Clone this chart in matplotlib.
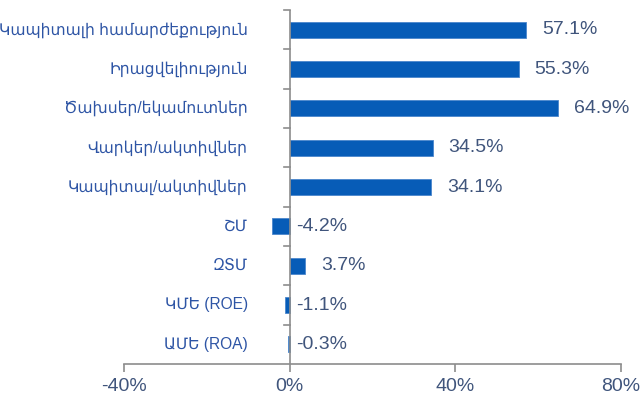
import matplotlib
matplotlib.use("Agg")
import matplotlib.pyplot as plt
import numpy as np
from matplotlib.transforms import offset_copy

# data, top to bottom
categories = [
    "Կապիտալի համարժեքություն",
    "Իրացվելիություն",
    "Ծախսեր/եկամուտներ",
    "Վարկեր/ակտիվներ",
    "Կապիտալ/ակտիվներ",
    "ՇՄ",
    "ԶՏՄ",
    "ԿՄԵ (ROE)",
    "ԱՄԵ (ROA)",
]
values = [57.1, 55.3, 64.9, 34.5, 34.1, -4.2, 3.7, -1.1, -0.3]
value_labels = ["57.1%", "55.3%", "64.9%", "34.5%", "34.1%", "-4.2%", "3.7%", "-1.1%", "-0.3%"]
xticks = [-40, 0, 40, 80]
xtick_labels = ["-40%", "0%", "40%", "80%"]

BAR = "#075CB7"
VALC = "#40557C"
CATC = "#2E55A5"
AXC = "#8C8C8C"

plt.rcParams["font.family"] = ["Liberation Sans", "DejaVu Sans"]

fig = plt.figure(figsize=(6.42, 4.01), dpi=100)
ax = fig.add_axes([124 / 642, 1 - 364 / 401, (621 - 124) / 642, (364 - 10) / 401])

y = np.arange(len(categories))
ax.barh(y, values, height=0.41, color=BAR, edgecolor="#4A86CC", linewidth=0.6, zorder=2)
ax.set_xlim(-40, 80)
ax.set_ylim(len(categories) - 0.5, -0.5)

for s in ["top", "right", "left"]:
    ax.spines[s].set_visible(False)
ax.spines["bottom"].set_color(AXC)
ax.spines["bottom"].set_linewidth(1.2)
ax.axvline(0, color=AXC, lw=1.2, zorder=3)

ax.set_xticks(xticks)
ax.set_xticklabels(xtick_labels, fontsize=14, color=VALC)
ax.tick_params(axis="x", direction="out", length=6, width=1.2, color=AXC, pad=4)
ax.set_yticks([])

# category boundary ticks on the zero axis
for b in np.arange(len(categories)) - 0.5:
    ax.plot([-1.25, 0], [b, b], color=AXC, lw=1.2, clip_on=False, zorder=3)

lab_tr = offset_copy(ax.transData, fig=fig, x=-42, y=0, units="dots")
for yi, c in zip(y, categories):
    ax.text(0, yi, c, transform=lab_tr, ha="right", va="center",
            fontsize=11.2, color=CATC)

for yi, v, lab in zip(y, values, value_labels):
    if v >= 0:
        tr = offset_copy(ax.transData, fig=fig, x=16, y=0, units="dots")
        ax.text(v, yi, lab, transform=tr, ha="left", va="center", fontsize=14, color=VALC)
    else:
        tr = offset_copy(ax.transData, fig=fig, x=6, y=0, units="dots")
        ax.text(0, yi, lab, transform=tr, ha="left", va="center", fontsize=14, color=VALC)

fig.savefig("out.png", dpi=100)
